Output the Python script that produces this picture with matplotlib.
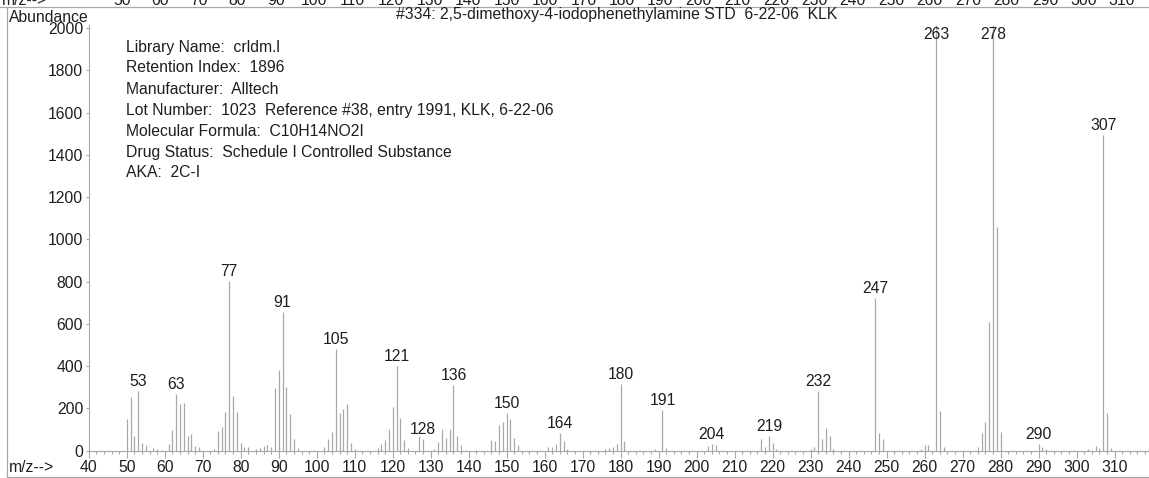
"""Mass spectrum of 2C-I (library entry #334) redrawn as a stick plot."""

import matplotlib.pyplot as plt
from matplotlib.lines import Line2D
from matplotlib.ticker import MultipleLocator

plt.rcParams["font.family"] = ["Liberation Sans", "DejaVu Sans"]

# peak positions (m/z) and abundances
mz = [50, 51, 52, 53, 54, 55, 57, 58, 61, 62, 63, 64, 65, 66, 67, 68, 69,
      73, 74, 75, 76, 77, 78, 79, 80, 81, 82, 84, 85, 86, 87, 88, 89, 90,
      91, 92, 93, 94, 95,
      102, 103, 104, 105, 106, 107, 108, 109, 110,
      116, 117, 118, 119, 120, 121, 122, 123, 124,
      127, 128, 131, 132, 133, 134, 135, 136, 137, 138, 142,
      146, 147, 148, 149, 150, 151, 152, 153,
      161, 162, 163, 164, 165, 166,
      176, 177, 178, 179, 180, 181, 189, 191, 192,
      203, 204, 205, 217, 218, 219, 220, 221,
      230, 231, 232, 233, 234, 235, 236,
      247, 248, 249, 259, 260, 261, 263, 264, 265,
      274, 275, 276, 277, 278, 279, 280,
      290, 291, 292, 303, 305, 306, 307, 308, 309]
abundance = [150, 256, 71, 284, 38, 27, 15, 8, 30, 96, 268, 219, 226, 69, 80, 24, 16,
             9, 95, 114, 181, 803, 260, 185, 38, 16, 19, 7, 11, 22, 27, 16, 295, 382,
             658, 303, 174, 54, 11,
             19, 54, 90, 480, 177, 196, 221, 38, 9,
             13, 32, 49, 101, 208, 401, 156, 50, 11,
             68, 55, 9, 43, 103, 62, 103, 311, 69, 27, 5,
             50, 47, 122, 137, 180, 150, 58, 27,
             19, 19, 30, 85, 47, 8,
             6, 11, 16, 30, 316, 47, 8, 193, 11,
             22, 30, 27, 54, 16, 69, 35, 9,
             9, 19, 284, 55, 109, 69, 6,
             724, 85, 54, 8, 28, 25, 2017, 189, 19,
             19, 82, 137, 611, 2017, 1060, 90,
             30, 16, 9, 8, 22, 11, 1494, 177, 14]

labeled_peaks = [53, 63, 77, 91, 105, 121, 128, 136, 150, 164, 180, 191,
                 204, 219, 232, 247, 263, 278, 290, 307]

info_lines = [
    "Library Name:  crldm.l",
    "Retention Index:  1896",
    "Manufacturer:  Alltech",
    "Lot Number:  1023  Reference #38, entry 1991, KLK, 6-22-06",
    "Molecular Formula:  C10H14NO2I",
    "Drug Status:  Schedule I Controlled Substance",
    "AKA:  2C-I",
]
title = "#334: 2,5-dimethoxy-4-iodophenethylamine STD  6-22-06  KLK"
top_ticks = list(range(50, 320, 10))

W, H = 1149, 478
TXT = "#1e1e1e"
GREY = "#a8a8a8"
FS = 11.3

fig = plt.figure(figsize=(W / 100, H / 100), dpi=100)
ax = fig.add_axes([88.7 / W, 1 - 450.7 / H, (W - 88.7) / W, (450.7 - 24.6) / H])

ax.vlines(mz, 0, abundance, color=GREY, linewidth=0.9)

lookup = dict(zip(mz, abundance))
for p in labeled_peaks:
    y = min(lookup[p], 1925)
    ax.annotate(str(p), (p, y), xytext=(0, 1.5), textcoords="offset points",
                ha="center", va="bottom", fontsize=FS, color=TXT)

ax.set_xlim(40, 40 + (W - 88.7) / 3.8)
ax.set_ylim(0, 2017)
ax.xaxis.set_major_locator(MultipleLocator(10))
ax.xaxis.set_minor_locator(MultipleLocator(2))
ax.yaxis.set_major_locator(MultipleLocator(200))
ax.set_xticks([t for t in range(40, 320, 10)])
ax.tick_params(axis="x", which="major", length=5, width=0.8, color=GREY,
               labelsize=FS, labelcolor=TXT, pad=2)
ax.tick_params(axis="x", which="minor", length=2.5, width=0.8, color=GREY)
ax.tick_params(axis="y", which="major", length=2, width=0.8, color=GREY,
               labelsize=FS, labelcolor=TXT, pad=2)
for side in ("top", "right"):
    ax.spines[side].set_visible(False)
for side in ("left", "bottom"):
    ax.spines[side].set_color(GREY)
    ax.spines[side].set_linewidth(0.8)

for i, line in enumerate(info_lines):
    fig.text(126 / W, 1 - (47 + 21 * i) / H, line, ha="left", va="center",
             fontsize=FS, color=TXT)

fig.text(617 / W, 1 - 14 / H, title, ha="center", va="center", fontsize=FS, color=TXT)
fig.text(9 / W, 1 - 17 / H, "Abundance", ha="left", va="center", fontsize=FS, color=TXT)
fig.text(9 / W, 1 - 468 / H, "m/z-->", ha="left", va="center", fontsize=FS, color=TXT)

# clipped scale of the panel above
fig.text(2 / W, 1 - 5 / H, "m/z-->", ha="left", va="baseline", fontsize=FS, color=TXT)
for t in top_ticks:
    fig.text((122 + (t - 50) * 3.846) / W, 1 - 5 / H, str(t), ha="center",
             va="baseline", fontsize=FS, color=TXT)

# panel frame
for xs, ys in [((0, W), (7, 7)), ((7, 7), (7, 477)), ((7, W), (477, 477))]:
    fig.add_artist(Line2D([x / W for x in xs], [1 - y / H for y in ys],
                          transform=fig.transFigure, color=GREY, linewidth=0.9))

fig.savefig("out.png", dpi=100)
